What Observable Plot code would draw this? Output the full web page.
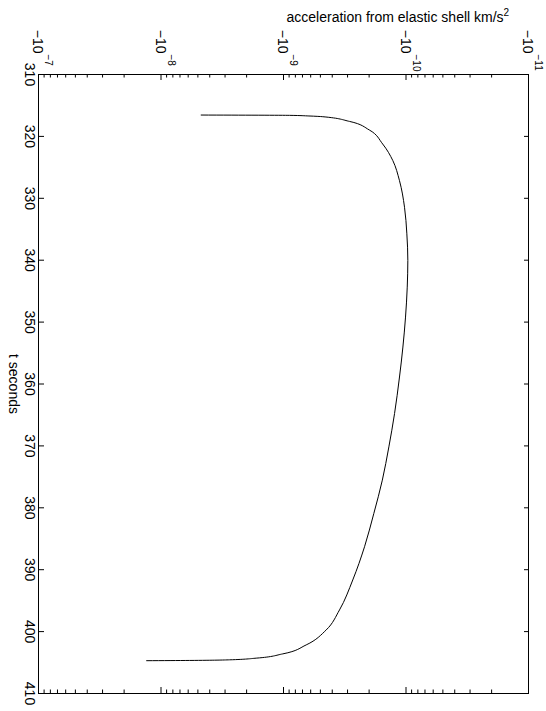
<!DOCTYPE html>
<html>
<head>
<meta charset="utf-8">
<script src="https://cdn.jsdelivr.net/npm/d3@7"></script>
<script src="https://cdn.jsdelivr.net/npm/@observablehq/plot@0.6"></script>
<style>
  html, body { margin: 0; padding: 0; background: white; }
  #wrap { position: relative; width: 546px; height: 711px; overflow: hidden; background: white; }
  #wrap svg { position: absolute; left: 0; top: 0; width: 711px !important; height: 546px !important; max-width: none !important; transform-origin: 0 0; transform: translate(546px, 0) rotate(90deg); }
</style>
</head>
<body>
<div id="wrap"></div>
<script>
// ---- data ----
const tSeconds = [316.55, 316.6, 316.7, 316.82, 317.58, 318.97, 321.23, 323.92, 327.15, 331.45, 335.74,
                  340.05, 344.35, 349.19, 354.03, 358.87, 364.77, 370.16, 375.53, 380.90, 386.29,
                  391.66, 396.50, 399.73, 402.15, 403.60, 404.29, 404.56, 404.66, 404.70];
const accel = [-4.70e-9, -8.93e-10, -6.2e-10, -4.78e-10, -2.89e-10, -1.99e-10, -1.55e-10, -1.28e-10, -1.13e-10, -1.028e-10, -9.84e-11,
               -9.66e-11, -9.77e-11, -1.009e-10, -1.06e-10, -1.13e-10, -1.24e-10, -1.38e-10, -1.56e-10, -1.83e-10, -2.18e-10,
               -2.72e-10, -3.49e-10, -4.48e-10, -6.53e-10, -1.014e-9, -1.67e-9, -2.76e-9, -5.85e-9, -1.31e-8];
const tTicks = [310, 320, 330, 340, 350, 360, 370, 380, 390, 400, 410];
const accelMajorTicks = [-1e-7, -1e-8, -1e-9, -1e-10, -1e-11];
const accelMinorMultipliers = [2, 3, 4, 5, 6, 7, 8, 9];
const xLabel = "t seconds";
const yLabel = "acceleration from elastic shell km/s";
const yLabelSup = "2";

// ---- derived tables ----
const data = tSeconds.map((t, i) => ({t, a: accel[i]}));
const minorTicks = [];
for (const m of accelMajorTicks.slice(1)) for (const k of accelMinorMultipliers) minorTicks.push(m * k);

const W = 711, H = 546;
const mL = 74, mR = 18, mT = 17, mB = 39;
const fw = W - mL - mR, fh = H - mT - mB;

const expLabel = d => "\u2212" + String(-Math.round(Math.log10(-d)));

const chart = Plot.plot({
  width: W,
  height: H,
  marginLeft: mL, marginRight: mR, marginTop: mT, marginBottom: mB,
  style: {fontFamily: "'Liberation Sans', Arial, Helvetica, sans-serif", fontSize: "14px", background: "white", color: "black", maxWidth: "none"},
  x: {domain: [310, 410], axis: null},
  y: {type: "log", domain: [-1e-7, -1e-11], axis: null},
  marks: [
    Plot.frame({stroke: "black", strokeWidth: 1}),
    // t axis ticks (inward, both sides)
    Plot.tickX(tTicks, {x: d => d, stroke: "black", insetTop: fh - 5}),
    Plot.tickX(tTicks, {x: d => d, stroke: "black", insetBottom: fh - 5}),
    // log axis major ticks
    Plot.tickY(accelMajorTicks, {y: d => d, stroke: "black", insetRight: fw - 6}),
    Plot.tickY(accelMajorTicks, {y: d => d, stroke: "black", insetLeft: fw - 6}),
    // log axis minor ticks
    Plot.tickY(minorTicks, {y: d => d, stroke: "black", insetRight: fw - 3.5}),
    Plot.tickY(minorTicks, {y: d => d, stroke: "black", insetLeft: fw - 3.5}),
    // t tick labels
    Plot.axisX({anchor: "bottom", ticks: tTicks, tickSize: 0, tickPadding: 4, tickFormat: d => String(d), label: null, fontSize: 14}),
    // log tick labels: base and exponent
    Plot.text(accelMajorTicks, {y: d => d, text: () => "\u221210", frameAnchor: "left", textAnchor: "end", dx: -21, dy: 1, fontSize: 14}),
    Plot.text(accelMajorTicks, {y: d => d, text: expLabel, frameAnchor: "left", textAnchor: "start", dx: -20, dy: -10, fontSize: 10}),
    // axis titles
    Plot.text([xLabel], {text: d => d, frameAnchor: "bottom", dy: 30, fontSize: 14}),
    Plot.text([yLabel], {text: d => d, frameAnchor: "left", rotate: -90, dx: -57, dy: -3, fontSize: 14, className: "ylab"}),
    // curve
    Plot.line(data, {x: "t", y: "a", stroke: "black", strokeWidth: 1, curve: "monotone-x"})
  ]
});

// add the superscript to the axis title
chart.querySelectorAll("text").forEach(el => {
  if (el.textContent === yLabel) {
    const sup = document.createElementNS("http://www.w3.org/2000/svg", "tspan");
    sup.setAttribute("dy", "-6");
    sup.setAttribute("font-size", "10");
    sup.textContent = yLabelSup;
    el.appendChild(sup);
  }
});
document.getElementById("wrap").appendChild(chart);
</script>
</body>
</html>
